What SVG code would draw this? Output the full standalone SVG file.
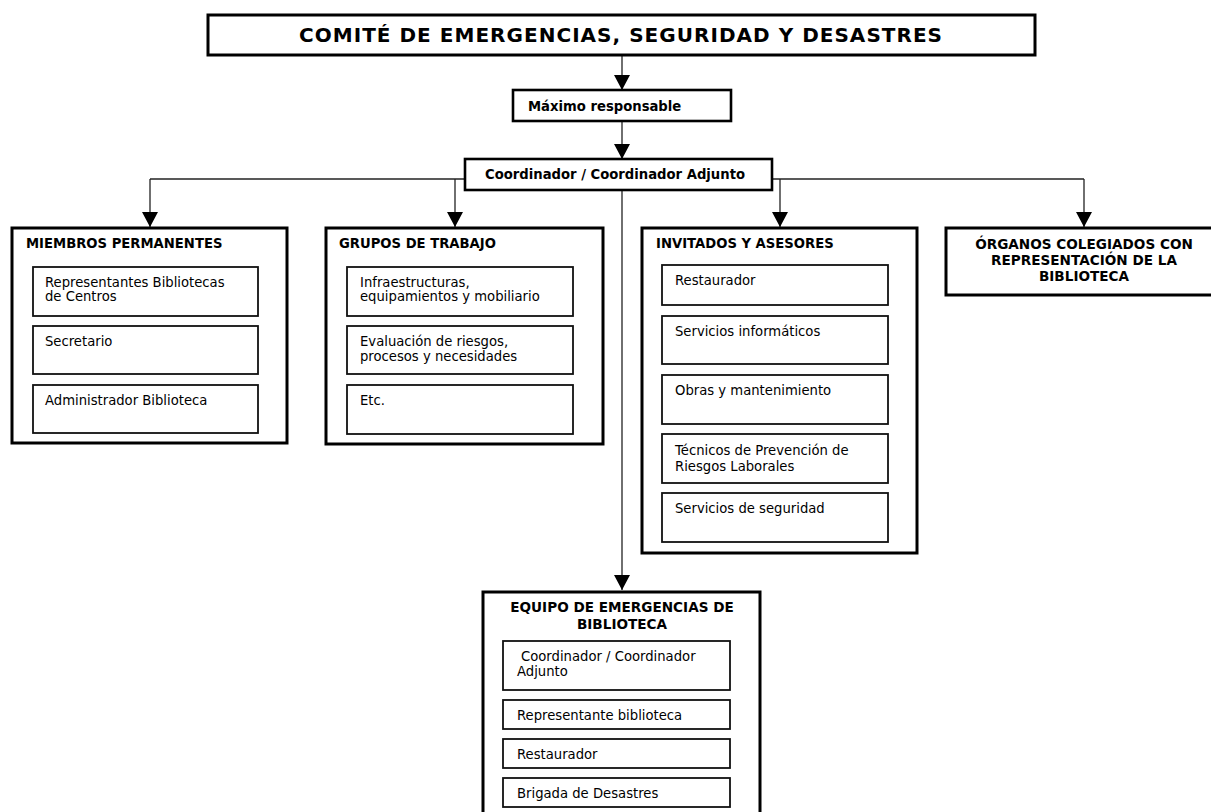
<svg xmlns="http://www.w3.org/2000/svg" width="1211" height="812" viewBox="0 0 1211 812">
<defs>
<marker id="arr" markerUnits="userSpaceOnUse" markerWidth="15" markerHeight="16" viewBox="0 0 15 16" refX="15" refY="8" orient="auto">
<path d="M0,0 L15,8 L0,16 Z" fill="#000"/>
</marker>
<style>
.outer{fill:#fff;stroke:#000;stroke-width:3}
.inner{fill:#fff;stroke:#111;stroke-width:1.8}
.con{fill:none;stroke:#222;stroke-width:1.3}
.t{font-family:"DejaVu Sans",Verdana,sans-serif;font-size:13.2px;fill:#000}
.b{font-family:"DejaVu Sans",Verdana,sans-serif;font-size:13.2px;font-weight:bold;fill:#000}
.bc{font-family:"DejaVu Sans",Verdana,sans-serif;font-size:13.6px;font-weight:bold;fill:#000;text-anchor:middle}
.title{font-family:"DejaVu Sans",Verdana,sans-serif;font-size:20px;font-weight:bold;fill:#000}
</style>
</defs>
<rect width="1211" height="812" fill="#fff"/>

<g id="connectors">
<path class="con" d="M622,55 V90" marker-end="url(#arr)"/>
<path class="con" d="M622,121 V159" marker-end="url(#arr)"/>
<path class="con" d="M150,179 H1084"/>
<path class="con" d="M150,179 V227" marker-end="url(#arr)"/>
<path class="con" d="M455,179 V227" marker-end="url(#arr)"/>
<path class="con" d="M780,179 V227" marker-end="url(#arr)"/>
<path class="con" d="M1084,179 V227" marker-end="url(#arr)"/>
<path class="con" d="M622,190 V590" marker-end="url(#arr)"/>
</g>

<g id="comite">
<rect class="outer" x="208" y="15" width="827" height="40"/>
<text class="title" x="299" y="42" textLength="643" lengthAdjust="spacing">COMITÉ DE EMERGENCIAS, SEGURIDAD Y DESASTRES</text>
</g>

<g id="maximo">
<rect class="outer" x="513" y="90" width="218" height="31" style="stroke-width:2.6"/>
<text class="b" x="528" y="111">Máximo responsable</text>
</g>

<g id="coordinador">
<rect class="outer" x="465" y="159" width="307" height="31" style="stroke-width:2.6"/>
<text class="b" x="485" y="179">Coordinador / Coordinador Adjunto</text>
</g>

<g id="miembros">
<rect class="outer" x="12" y="228" width="275" height="215"/>
<text class="b" x="26" y="248">MIEMBROS PERMANENTES</text>
<rect class="inner" x="33" y="267" width="225" height="49"/>
<text class="t" x="45" y="287">Representantes Bibliotecas</text>
<text class="t" x="45" y="301">de Centros</text>
<rect class="inner" x="33" y="326" width="225" height="48"/>
<text class="t" x="45" y="346">Secretario</text>
<rect class="inner" x="33" y="385" width="225" height="48"/>
<text class="t" x="45" y="405">Administrador Biblioteca</text>
</g>

<g id="grupos">
<rect class="outer" x="326" y="228" width="277" height="216"/>
<text class="b" x="339" y="248">GRUPOS DE TRABAJO</text>
<rect class="inner" x="347" y="267" width="226" height="49"/>
<text class="t" x="360" y="287">Infraestructuras,</text>
<text class="t" x="360" y="301">equipamientos y mobiliario</text>
<rect class="inner" x="347" y="326" width="226" height="48"/>
<text class="t" x="360" y="346">Evaluación de riesgos,</text>
<text class="t" x="360" y="361">procesos y necesidades</text>
<rect class="inner" x="347" y="385" width="226" height="49"/>
<text class="t" x="360" y="405">Etc.</text>
</g>

<g id="invitados">
<rect class="outer" x="642" y="228" width="275" height="325"/>
<text class="b" x="656" y="248">INVITADOS Y ASESORES</text>
<rect class="inner" x="662" y="265" width="226" height="40"/>
<text class="t" x="675" y="285">Restaurador</text>
<rect class="inner" x="662" y="316" width="226" height="48"/>
<text class="t" x="675" y="336">Servicios informáticos</text>
<rect class="inner" x="662" y="375" width="226" height="49"/>
<text class="t" x="675" y="395">Obras y mantenimiento</text>
<rect class="inner" x="662" y="434" width="226" height="49"/>
<text class="t" x="675" y="455">Técnicos de Prevención de</text>
<text class="t" x="675" y="471">Riesgos Laborales</text>
<rect class="inner" x="662" y="493" width="226" height="49"/>
<text class="t" x="675" y="513">Servicios de seguridad</text>
</g>

<g id="organos">
<rect class="outer" x="946" y="228" width="270" height="67"/>
<text class="bc" x="1084" y="249">ÓRGANOS COLEGIADOS CON</text>
<text class="bc" x="1084" y="265">REPRESENTACIÓN DE LA</text>
<text class="bc" x="1084" y="281">BIBLIOTECA</text>
</g>

<g id="equipo">
<rect class="outer" x="483" y="592" width="277" height="230"/>
<text class="bc" x="622" y="612">EQUIPO DE EMERGENCIAS DE</text>
<text class="bc" x="622" y="629">BIBLIOTECA</text>
<rect class="inner" x="503" y="641" width="227" height="49"/>
<text class="t" x="521" y="661">Coordinador / Coordinador</text>
<text class="t" x="517" y="676">Adjunto</text>
<rect class="inner" x="503" y="700" width="227" height="29"/>
<text class="t" x="517" y="720">Representante biblioteca</text>
<rect class="inner" x="503" y="739" width="227" height="29"/>
<text class="t" x="517" y="759">Restaurador</text>
<rect class="inner" x="503" y="778" width="227" height="29"/>
<text class="t" x="517" y="798">Brigada de Desastres</text>
</g>
</svg>
